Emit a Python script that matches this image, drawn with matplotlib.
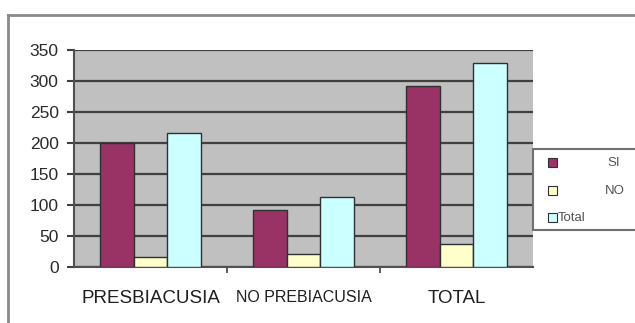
import numpy as np
import matplotlib.pyplot as plt
from matplotlib.patches import Rectangle
from matplotlib.lines import Line2D

categories = ['PRESBIACUSIA', 'NO PREBIACUSIA', 'TOTAL']
series_names = ['SI', 'NO', 'Total']
si_vals = [200, 92, 292]
no_vals = [16, 21, 37]
total_vals = [216, 113, 329]
y_ticks = [0, 50, 100, 150, 200, 250, 300, 350]

colors = ['#993366', '#ffffcc', '#ccffff']

W, H = 635, 323
fig = plt.figure(figsize=(W / 100, H / 100), dpi=100)
fig.patch.set_facecolor('white')
plt.rcParams['font.family'] = ['Liberation Sans', 'DejaVu Sans']

# plot area in pixel terms
left, right, top, bottom = 74, 533, 49.7, 266.7
ax = fig.add_axes([left / W, 1 - bottom / H, (right - left) / W, (bottom - top) / H])
ax.set_facecolor('#c0c0c0')

x = np.arange(len(categories))
bw = 0.222
for i, vals in enumerate([si_vals, no_vals, total_vals]):
    ax.bar(x + (i - 1) * bw, vals, bw, color=colors[i], edgecolor='#303030',
           linewidth=1.0, zorder=3, label=series_names[i])

ax.set_xlim(-0.5, 2.5)
ax.set_ylim(0, 350)
ax.set_yticks(y_ticks)
ax.set_yticklabels([str(v) for v in y_ticks], fontsize=12.5, color='#2a2a2a')
ax.yaxis.grid(True, color='#404040', linewidth=1.6, zorder=1)
ax.set_axisbelow(True)

ax.set_xticks([0.5, 1.5], minor=True)
ax.set_xticks(x)
ax.set_xticklabels(categories, color='#1e1e1e')
sizes = [13.5, 11.5, 13.5]
for lbl, s in zip(ax.get_xticklabels(), sizes):
    lbl.set_fontsize(s)
ax.tick_params(axis='x', which='major', length=0, pad=17)
ax.tick_params(axis='x', which='minor', length=4, color='#404040', width=1.2)
ax.tick_params(axis='y', length=5, color='#404040', width=1.5, pad=6)

for side in ['top', 'right']:
    ax.spines[side].set_visible(False)
ax.spines['left'].set_color('#505050')
ax.spines['left'].set_linewidth(1.5)
ax.spines['bottom'].set_color('#505050')
ax.spines['bottom'].set_linewidth(1.5)

# outer chart border (left and top edges)
fig.add_artist(Line2D([8 / W, 8 / W], [0, 1 - 15 / H], transform=fig.transFigure,
                      color='#8a8a8a', linewidth=2))
fig.add_artist(Line2D([8 / W, 1], [1 - 15 / H, 1 - 15 / H], transform=fig.transFigure,
                      color='#8a8a8a', linewidth=2))

# legend box
fig.add_artist(Rectangle((533 / W, 1 - 230 / H), (W - 533 + 5) / W, (230 - 149) / H,
                         transform=fig.transFigure, facecolor='white',
                         edgecolor='#707070', linewidth=1.5))
sq_y = [162, 190, 217]
text_x = [607, 605, 558]
for name, c, yy, tx in zip(series_names, colors, sq_y, text_x):
    fig.add_artist(Rectangle((548 / W, 1 - (yy + 4.5) / H), 9 / W, 9 / H,
                             transform=fig.transFigure, facecolor=c,
                             edgecolor='#303030', linewidth=0.8))
    fig.text(tx / W, 1 - (yy + 1) / H, name, fontsize=9.5, color='#555555',
             va='center', ha='left')

fig.savefig('out.png', dpi=100)
